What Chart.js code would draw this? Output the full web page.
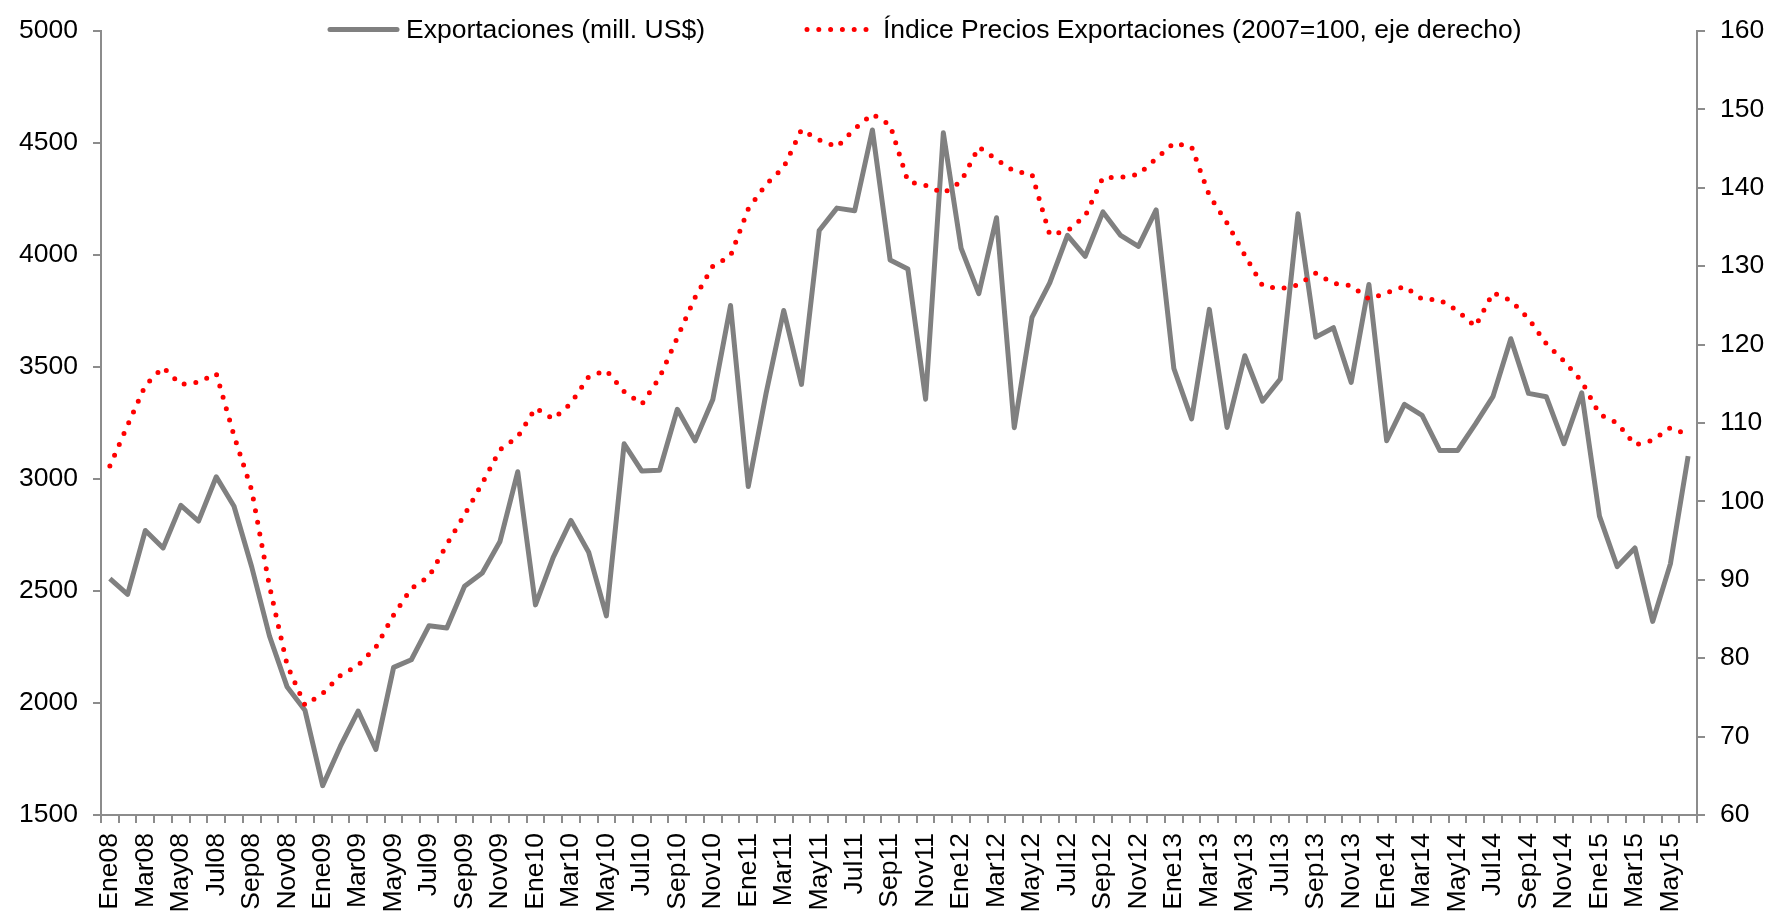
<!DOCTYPE html>
<html>
  <head>
    <meta charset="utf-8">
    <title>Exportaciones e Índice de Precios</title>
    <script src="https://cdn.jsdelivr.net/npm/chart.js@4.4.0/dist/chart.umd.min.js"></script>
    <style>
      html,body{
        margin: 0;
        padding: 0;
        background: #fff;
      }
      #container{
        width: 1777px;
        height: 916px;
      }
    </style>
  </head>
  <body>
    <div id="container">
      <canvas id="grafico"></canvas>
    </div>

    <script>
      const meses = ['Ene','Feb','Mar','Abr','May','Jun','Jul','Ago','Sep','Oct','Nov','Dic']
      const anios = ['08','09','10','11','12','13','14','15']

      // Ene08 .. Jun15
      const etiquetas = []
      anios.forEach(a => meses.forEach(m => etiquetas.push(m + a)))
      etiquetas.length = 90

      const exportaciones = [
        2555, 2485, 2770, 2692, 2882, 2812, 3010, 2878, 2607, 2299, 2071, 1968,
        1631, 1807, 1964, 1793, 2159, 2193, 2345, 2335, 2521, 2580, 2721, 3032,
        2438, 2650, 2815, 2673, 2389, 3157, 3035, 3039, 3311, 3170, 3355, 3774,
        2966, 3380, 3752, 3422, 4109, 4209, 4197, 4558, 3977, 3937, 3356, 4545,
        4030, 3827, 4166, 3229, 3721, 3875, 4087, 3994, 4192, 4087, 4038, 4201,
        3493, 3268, 3757, 3230, 3550, 3347, 3446, 4184, 3633, 3675, 3431, 3868,
        3171, 3333, 3284, 3127, 3127, 3245, 3369, 3626, 3382, 3367, 3157, 3384,
        2834, 2609, 2692, 2364, 2621, 3102
      ]

      const indicePrecios = [
        104.5, 109.7, 114.8, 117.1, 114.9, 115.2, 116.3, 108.4, 101.4, 89.2, 79.1, 74.0,
        75.5, 77.8, 79.1, 81.4, 85.5, 88.9, 90.4, 94.5, 98.3, 102.3, 106.6, 108.2,
        111.9, 110.5, 112.5, 115.9, 116.7, 114.0, 112.4, 115.8, 120.9, 126.0, 130.0, 131.3,
        137.3, 140.4, 142.6, 147.4, 146.1, 145.2, 147.5, 149.4, 148.0, 140.8, 140.3, 139.3,
        140.8, 145.2, 143.6, 142.1, 141.7, 134.0, 134.5, 136.4, 141.3, 141.3, 141.7, 143.7,
        145.7, 145.2, 139.0, 135.5, 131.4, 127.5, 127.1, 127.6, 129.1, 127.8, 127.5, 125.8,
        126.6, 127.4, 125.8, 125.7, 124.3, 122.3, 126.6, 125.6, 123.3, 120.1, 117.9, 115.3,
        111.1, 110.0, 107.2, 107.8, 109.4, 108.5
      ]

      const ticksIzq = {min: 1500, max: 5000, paso: 500}
      const ticksDer = {min: 60, max: 160, paso: 10}

      const fuente = {family: '"Liberation Sans", Arial, sans-serif', size: 26.5}
      const gris = '#808080'
      const ejes = '#8c8c8c'

      // leyenda dibujada encima del area del grafico (como en el original)
      const leyenda = {
        id: 'leyenda',
        afterDraw(chart){
          const c = chart.ctx
          const ds = chart.data.datasets
          c.save()
          c.font = fuente.size + 'px ' + fuente.family
          c.fillStyle = '#000'
          c.textBaseline = 'alphabetic'
          c.lineCap = 'round'

          c.strokeStyle = ds[0].borderColor
          c.lineWidth = ds[0].borderWidth
          c.beginPath(); c.moveTo(330, 29.5); c.lineTo(397, 29.5); c.stroke()
          c.fillText(ds[0].label, 406, 38)

          c.strokeStyle = ds[1].borderColor
          c.lineWidth = ds[1].borderWidth
          c.setLineDash(ds[1].borderDash)
          c.beginPath(); c.moveTo(807, 29.5); c.lineTo(868, 29.5); c.stroke()
          c.setLineDash([])
          c.fillText(ds[1].label, 883, 38)
          c.restore()
        }
      }

      let ctx = document.getElementById('grafico').getContext('2d')
      let grafico = new Chart(ctx, {
        type: 'line',
        data: {
          labels: etiquetas,
          datasets: [
            {
              label: 'Exportaciones (mill. US$)',
              data: exportaciones,
              yAxisID: 'y',
              borderColor: gris,
              backgroundColor: gris,
              borderWidth: 5,
              borderJoinStyle: 'round',
              pointRadius: 0,
              tension: 0,
              order: 1,
            },
            {
              label: 'Índice Precios Exportaciones (2007=100, eje derecho)',
              data: indicePrecios,
              yAxisID: 'y1',
              borderColor: '#ff0000',
              backgroundColor: '#ff0000',
              borderWidth: 5,
              borderDash: [0, 11.8],
              borderCapStyle: 'round',
              pointRadius: 0,
              tension: 0,
              order: 0,
            },
          ]
        },
        options: {
          responsive: true,
          maintainAspectRatio: false,
          animation: false,
          layout: {padding: {top: 20, left: 0, right: 0, bottom: 0}},
          plugins: {
            legend: {display: false},
            tooltip: {enabled: false},
          },
          scales: {
            x: {
              type: 'category',
              offset: true,
              grid: {offset: true, drawOnChartArea: false, drawTicks: true, tickLength: 8, color: ejes, lineWidth: 2},
              border: {display: true, color: ejes, width: 2},
              ticks: {
                autoSkip: false,
                minRotation: 90,
                maxRotation: 90,
                padding: 10,
                color: '#000',
                font: fuente,
                callback: function(val, idx){ return idx % 2 === 0 ? this.getLabelForValue(val) : '' }
              },
              afterFit: (eje) => { eje.height = 101 }
            },
            y: {
              position: 'left',
              min: ticksIzq.min,
              max: ticksIzq.max,
              grid: {drawOnChartArea: false, drawTicks: true, tickLength: 8, color: ejes, lineWidth: 2},
              border: {display: true, color: ejes, width: 2},
              ticks: {stepSize: ticksIzq.paso, padding: 15, color: '#000', font: fuente, callback: v => String(v)},
              afterFit: (eje) => { eje.width = 101 }
            },
            y1: {
              position: 'right',
              min: ticksDer.min,
              max: ticksDer.max,
              grid: {drawOnChartArea: false, drawTicks: true, tickLength: 8, color: ejes, lineWidth: 2},
              border: {display: true, color: ejes, width: 2},
              ticks: {stepSize: ticksDer.paso, padding: 15, color: '#000', font: fuente, callback: v => String(v)},
              afterFit: (eje) => { eje.width = 80 }
            }
          }
        },
        plugins: [leyenda]
      })
    </script>
  </body>
</html>
